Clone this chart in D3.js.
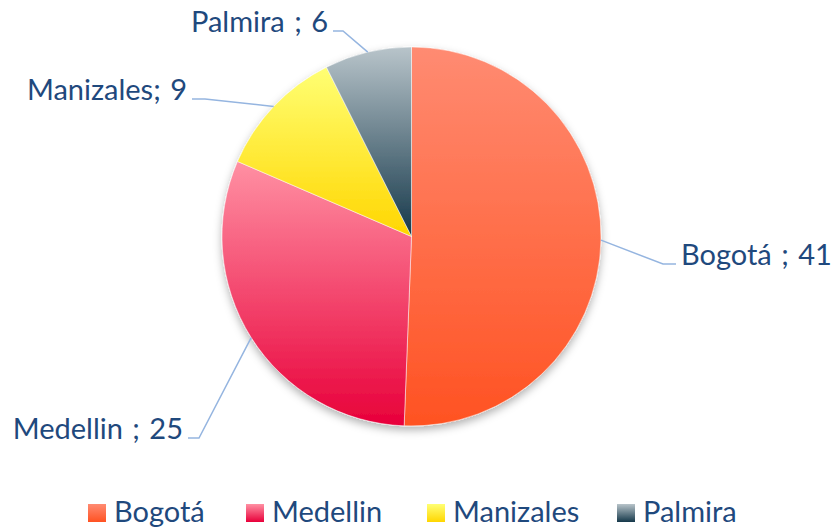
<!DOCTYPE html>
<html><head><meta charset="utf-8">
<script src="https://cdn.jsdelivr.net/npm/d3@7"></script>
<style>html,body{margin:0;padding:0;background:#fff}svg{display:block}</style>
</head><body>
<svg id="chart" width="831" height="527"></svg>
<script>
const categories = ["Bogotá", "Medellin", "Manizales", "Palmira"];
const values = [41, 25, 9, 6];
const labelTexts = ["Bogotá ; 41", "Medellin ; 25", "Manizales; 9", "Palmira ; 6"];
const gradTop = ["#FF8B72", "#FF90A3", "#FFFF74", "#B8C4CA"];
const gradBottom = ["#FF5222", "#E8003A", "#FFD600", "#15384A"];

// layout (not data)
const W = 831, H = 527, cx = 411.5, cy = 236.5, R = 189.5;
const elbows = [[663, 264, 676, 264], [199, 438, 188, 438], [205, 99, 192, 99], [343, 31, 333, 31]];
const textColor = "#1F497D";
const font = "Lato, 'Open Sans', sans-serif";

const svg = d3.select("#chart");
const defs = svg.append("defs");
categories.forEach((c, i) => {
  const g = defs.append("linearGradient").attr("id", "g" + i)
    .attr("x1", 0).attr("y1", 0).attr("x2", 0).attr("y2", 1);
  g.append("stop").attr("offset", "0%").attr("stop-color", gradTop[i]);
  g.append("stop").attr("offset", "100%").attr("stop-color", gradBottom[i]);
});
const f = defs.append("filter").attr("id", "sh").attr("x", "-20%").attr("y", "-20%").attr("width", "140%").attr("height", "140%");
f.append("feDropShadow").attr("dx", 0).attr("dy", 4).attr("stdDeviation", 4).attr("flood-color", "#000").attr("flood-opacity", 0.3);

const pie = d3.pie().sort(null).value(d => d)(values);
const arc = d3.arc().innerRadius(0).outerRadius(R);
const gp = svg.append("g").attr("transform", `translate(${cx},${cy})`).attr("filter", "url(#sh)");
gp.selectAll("path").data(pie).join("path")
  .attr("d", arc)
  .attr("fill", (d, i) => `url(#g${i})`)
  .attr("stroke", "#fff").attr("stroke-width", 0.5);

// leaders
pie.forEach((d, i) => {
  const a = (d.startAngle + d.endAngle) / 2;
  const sx = cx + R * Math.sin(a), sy = cy - R * Math.cos(a);
  const e = elbows[i];
  svg.append("polyline")
    .attr("points", `${sx},${sy} ${e[0]},${e[1]} ${e[2]},${e[3]}`)
    .attr("fill", "none").attr("stroke", "#95B5E0").attr("stroke-width", 1.5);
  const right = e[2] > e[0];
  svg.append("text")
    .attr("x", right ? e[2] + 5 : e[2] - 5)
    .attr("y", e[3] + 1)
    .attr("text-anchor", right ? "start" : "end")
    .attr("font-family", font).attr("font-size", 29)
    .attr("word-spacing", 2)
    .attr("fill", textColor)
    .text(labelTexts[i]);
});

// legend
const legX = [88, 246, 427, 617];
const lg = svg.append("g");
categories.forEach((c, i) => {
  lg.append("rect").attr("x", legX[i]).attr("y", 504).attr("width", 18).attr("height", 18)
    .attr("fill", `url(#g${i})`);
  lg.append("text").attr("x", legX[i] + 26).attr("y", 522)
    .attr("font-family", font).attr("font-size", 29).attr("fill", textColor).text(c);
});
</script>
</body></html>
